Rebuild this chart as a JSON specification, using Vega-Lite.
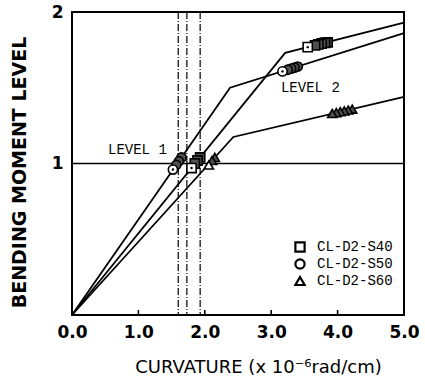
{
  "$schema": "https://vega.github.io/schema/vega-lite/v6.json",
  "width": 332,
  "height": 303,
  "autosize": "none",
  "padding": {"left": 72, "top": 12, "right": 21, "bottom": 69},
  "background": "white",
  "config": {
    "view": {"stroke": "black", "strokeWidth": 2},
    "axis": {"grid": false, "domain": false, "labelColor": "black", "titleColor": "black"}
  },
  "datasets": {
    "curves": [
      {"series": "CL-D2-S40", "x": 0, "y": 0},
      {"series": "CL-D2-S40", "x": 3.21, "y": 1.73},
      {"series": "CL-D2-S40", "x": 5, "y": 1.93},
      {"series": "CL-D2-S50", "x": 0, "y": 0},
      {"series": "CL-D2-S50", "x": 2.38, "y": 1.5},
      {"series": "CL-D2-S50", "x": 5, "y": 1.86},
      {"series": "CL-D2-S60", "x": 0, "y": 0},
      {"series": "CL-D2-S60", "x": 2.43, "y": 1.175},
      {"series": "CL-D2-S60", "x": 5, "y": 1.44}
    ],
    "tests": [
      {"series": "CL-D2-S40", "x": 1.8, "y": 0.97, "role": "first"},
      {"series": "CL-D2-S40", "x": 1.85, "y": 1.0, "role": "other"},
      {"series": "CL-D2-S40", "x": 1.89, "y": 1.02, "role": "other"},
      {"series": "CL-D2-S40", "x": 1.93, "y": 1.04, "role": "other"},
      {"series": "CL-D2-S40", "x": 3.55, "y": 1.768, "role": "first"},
      {"series": "CL-D2-S40", "x": 3.66, "y": 1.78, "role": "other"},
      {"series": "CL-D2-S40", "x": 3.71, "y": 1.786, "role": "other"},
      {"series": "CL-D2-S40", "x": 3.76, "y": 1.792, "role": "other"},
      {"series": "CL-D2-S40", "x": 3.81, "y": 1.797, "role": "other"},
      {"series": "CL-D2-S40", "x": 3.85, "y": 1.8, "role": "other"},
      {"series": "CL-D2-S50", "x": 1.52, "y": 0.96, "role": "first"},
      {"series": "CL-D2-S50", "x": 1.57, "y": 0.99, "role": "other"},
      {"series": "CL-D2-S50", "x": 1.61, "y": 1.015, "role": "other"},
      {"series": "CL-D2-S50", "x": 1.65, "y": 1.04, "role": "other"},
      {"series": "CL-D2-S50", "x": 3.17, "y": 1.608, "role": "first"},
      {"series": "CL-D2-S50", "x": 3.25, "y": 1.619, "role": "other"},
      {"series": "CL-D2-S50", "x": 3.3, "y": 1.626, "role": "other"},
      {"series": "CL-D2-S50", "x": 3.35, "y": 1.633, "role": "other"},
      {"series": "CL-D2-S50", "x": 3.4, "y": 1.64, "role": "other"},
      {"series": "CL-D2-S60", "x": 2.06, "y": 0.99, "role": "first"},
      {"series": "CL-D2-S60", "x": 2.11, "y": 1.02, "role": "other"},
      {"series": "CL-D2-S60", "x": 2.15, "y": 1.04, "role": "other"},
      {"series": "CL-D2-S60", "x": 3.92, "y": 1.33, "role": "other"},
      {"series": "CL-D2-S60", "x": 3.98, "y": 1.336, "role": "other"},
      {"series": "CL-D2-S60", "x": 4.04, "y": 1.342, "role": "other"},
      {"series": "CL-D2-S60", "x": 4.1, "y": 1.347, "role": "other"},
      {"series": "CL-D2-S60", "x": 4.16, "y": 1.353, "role": "other"},
      {"series": "CL-D2-S60", "x": 4.22, "y": 1.359, "role": "other"}
    ],
    "verticals": [{"x": 1.6}, {"x": 1.73}, {"x": 1.93}],
    "levelLine": [{"y": 1}],
    "xticks": [{"x": 1}, {"x": 2}, {"x": 3}, {"x": 4}],
    "labels": [
      {"x": 0.985, "y": 1.09, "text": "LEVEL 1"},
      {"x": 3.59, "y": 1.5, "text": "LEVEL 2"}
    ]
  },
  "encoding": {
    "x": {
      "type": "quantitative",
      "scale": {"domain": [0, 5], "nice": false, "zero": false},
      "axis": {
        "values": [0, 1, 2, 3, 4, 5],
        "format": ".1f",
        "ticks": false,
        "labelFont": "DejaVu Sans",
        "labelFontWeight": "bold",
        "labelFontSize": 17,
        "labelPadding": 9,
        "labelFlush": false,
        "title": "CURVATURE (x 10⁻⁶rad/cm)",
        "titleFont": "DejaVu Sans",
        "titleFontSize": 18,
        "titleFontWeight": "normal",
        "titleX": 186,
        "titleY": 43
      }
    },
    "y": {
      "type": "quantitative",
      "scale": {"domain": [0, 2], "nice": false, "zero": false},
      "axis": {
        "values": [1, 2],
        "format": "d",
        "ticks": false,
        "labelFont": "DejaVu Sans",
        "labelFontWeight": "bold",
        "labelFontSize": 17,
        "labelPadding": 9,
        "labelFlush": false,
        "title": "BENDING MOMENT LEVEL",
        "titleFont": "DejaVu Sans",
        "titleFontSize": 19,
        "titleFontWeight": "bold",
        "titleX": -43,
        "titleY": 160
      }
    }
  },
  "layer": [
    {
      "data": {"name": "levelLine"},
      "mark": {"type": "rule", "color": "black", "strokeWidth": 1.5},
      "encoding": {"y": {"field": "y", "type": "quantitative"}}
    },
    {
      "data": {"name": "verticals"},
      "mark": {"type": "rule", "color": "black", "strokeWidth": 1.2, "strokeDash": [7, 2, 1, 2]},
      "encoding": {"x": {"field": "x", "type": "quantitative"}}
    },
    {
      "data": {"name": "xticks"},
      "mark": {"type": "tick", "orient": "vertical", "size": 10, "thickness": 1.6, "color": "black", "clip": true, "opacity": 1},
      "encoding": {
        "x": {"field": "x", "type": "quantitative"},
        "y": {"datum": 0, "type": "quantitative"}
      }
    },
    {
      "data": {"name": "curves"},
      "mark": {"type": "line", "color": "black", "strokeWidth": 1.8},
      "encoding": {
        "x": {"field": "x", "type": "quantitative"},
        "y": {"field": "y", "type": "quantitative"},
        "detail": {"field": "series"}
      }
    },
    {
      "data": {"name": "tests"},
      "mark": {"type": "point", "filled": true, "stroke": "black", "strokeWidth": 1.6, "size": 85, "opacity": 1},
      "encoding": {
        "x": {"field": "x", "type": "quantitative"},
        "y": {"field": "y", "type": "quantitative"},
        "order": {"field": "x", "sort": "descending"},
        "fill": {
          "field": "role",
          "type": "nominal",
          "scale": {"domain": ["first", "other"], "range": ["white", "#505050"]},
          "legend": null
        },
        "shape": {
          "field": "series",
          "type": "nominal",
          "scale": {"domain": ["CL-D2-S40", "CL-D2-S50", "CL-D2-S60"], "range": ["square", "circle", "triangle-up"]},
          "legend": {
            "title": null,
            "orient": "none",
            "legendX": 221,
            "legendY": 228,
            "padding": 0,
            "symbolSize": 85,
            "symbolFillColor": "white",
            "symbolStrokeColor": "black",
            "symbolStrokeWidth": 2.2,
            "symbolOpacity": 1,
            "labelFont": "Liberation Mono",
            "labelFontSize": 14,
            "labelColor": "black",
            "labelOffset": 10,
            "rowPadding": -4
          }
        }
      }
    },
    {
      "data": {"name": "tests"},
      "transform": [{"filter": "datum.role == 'first' && datum.series != 'CL-D2-S60'"}],
      "mark": {"type": "point", "filled": true, "color": "black", "size": 6, "opacity": 1},
      "encoding": {
        "x": {"field": "x", "type": "quantitative"},
        "y": {"field": "y", "type": "quantitative"}
      }
    },
    {
      "data": {"name": "labels"},
      "mark": {"type": "text", "font": "Liberation Mono", "fontSize": 14, "color": "black", "align": "center", "baseline": "middle"},
      "encoding": {
        "x": {"field": "x", "type": "quantitative"},
        "y": {"field": "y", "type": "quantitative"},
        "text": {"field": "text"}
      }
    }
  ]
}
